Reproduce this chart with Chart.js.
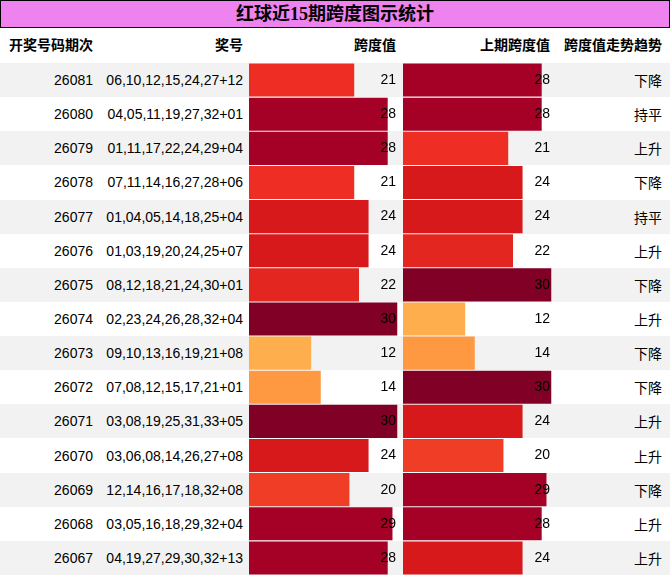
<!DOCTYPE html>
<html><head><meta charset="utf-8">
<script src="https://cdn.jsdelivr.net/npm/chart.js@4"></script>
<style>
body{margin:0;width:670px;height:575px;overflow:hidden;background:#fff;font-family:"Liberation Sans","Noto Sans CJK SC",sans-serif;font-size:14px;color:#000}
#title{position:absolute;left:0;top:0;width:668px;height:26px;background:#ee82ee;border:1px solid #000;text-align:center;font:bold 18px "Liberation Serif","Noto Sans CJK SC",serif;line-height:26px}
.hd{position:absolute;top:28px;height:35px;line-height:35px;font-weight:bold;text-align:right}
.row{position:absolute;left:0;width:670px;height:34.13px}
.cell{position:absolute;top:0;height:100%;display:flex;align-items:center;justify-content:flex-end}
.wrap{position:absolute;top:63px;height:512px}
</style></head><body>
<div id="title">红球近15期跨度图示统计</div>
<div class="hd" style="left:0;width:93px">开奖号码期次</div>
<div class="hd" style="left:103px;width:140px">奖号</div>
<div class="hd" style="left:249px;width:147px">跨度值</div>
<div class="hd" style="left:403px;width:147px">上期跨度值</div>
<div class="hd" style="left:557px;width:105px">跨度值走势趋势</div>
<div id="rows"></div>
<div class="wrap" style="left:249px;width:154px"><canvas id="c1"></canvas></div>
<div class="wrap" style="left:403px;width:154px"><canvas id="c2"></canvas></div>
<script>
const periods = ["26081","26080","26079","26078","26077","26076","26075","26074","26073","26072","26071","26070","26069","26068","26067"];
const prizes = ["06,10,12,15,24,27+12","04,05,11,19,27,32+01","01,11,17,22,24,29+04","07,11,14,16,27,28+06","01,04,05,14,18,25+04","01,03,19,20,24,25+07","08,12,18,21,24,30+01","02,23,24,26,28,32+04","09,10,13,16,19,21+08","07,08,12,15,17,21+01","03,08,19,25,31,33+05","03,06,08,14,26,27+08","12,14,16,17,18,32+08","03,05,16,18,29,32+04","04,19,27,29,30,32+13"];
const spans = [21,28,28,21,24,24,22,30,12,14,30,24,20,29,28];
const prevSpans = [28,28,21,24,24,22,30,12,14,30,24,20,29,28,24];
const trends = ["下降","持平","上升","下降","持平","上升","下降","上升","下降","下降","上升","上升","下降","上升","上升"];

function colorFor(v){
  if(v>=30) return "#800026";
  if(v>=28) return "#a50026";
  if(v>=24) return "#d7191c";
  if(v>=22) return "#e3261f";
  if(v>=21) return "#ee2e24";
  if(v>=20) return "#f03e26";
  if(v>=14) return "#fe9941";
  return "#ffae4d";
}

const rows = document.getElementById("rows");
periods.forEach((p,i)=>{
  const r = document.createElement("div");
  r.className = "row";
  r.style.top = (63 + i*512/15) + "px";
  r.style.background = i%2===0 ? "#f2f2f2" : "#fff";
  r.innerHTML = `<div class="cell" style="left:0;width:93px">${p}</div>
  <div class="cell" style="left:103px;width:140px">${prizes[i]}</div>
  <div class="cell" style="left:557px;width:105px">${trends[i]}</div>`;
  rows.appendChild(r);
});

const valueLabels = {
  id:"valueLabels",
  afterDatasetsDraw(chart){
    const {ctx, chartArea} = chart;
    const meta = chart.getDatasetMeta(0);
    ctx.save();
    ctx.font = '14px "Liberation Sans", sans-serif';
    ctx.fillStyle = "#000";
    ctx.textAlign = "right";
    ctx.textBaseline = "middle";
    meta.data.forEach((bar,i)=>{
      ctx.fillText(String(chart.data.datasets[0].data[i]), chartArea.right - 7, bar.y);
    });
    ctx.restore();
  }
};

function makeChart(id, data){
  new Chart(document.getElementById(id), {
    type:"bar",
    data:{labels:periods, datasets:[{data, base:-1, backgroundColor:data.map(colorFor), barPercentage:1, categoryPercentage:0.97}]},
    options:{
      indexAxis:"y", responsive:true, maintainAspectRatio:false, animation:false,
      layout:{padding:0},
      plugins:{legend:{display:false}, tooltip:{enabled:false}},
      scales:{
        x:{display:false, min:-1, max:31.2},
        y:{display:false}
      }
    },
    plugins:[valueLabels]
  });
}
makeChart("c1", spans);
makeChart("c2", prevSpans);
</script>
</body></html>
